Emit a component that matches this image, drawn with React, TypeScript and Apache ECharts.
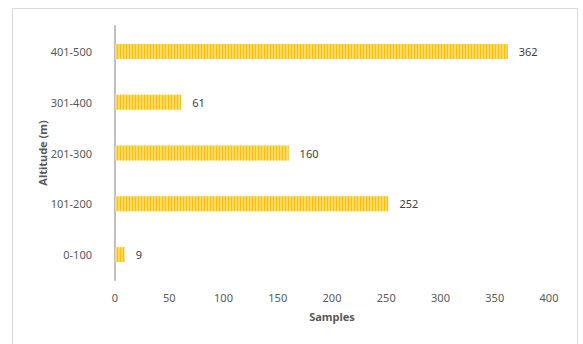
import React, { useEffect, useRef } from "react";
import * as echarts from "echarts";

const categories = ["0-100", "101-200", "201-300", "301-400", "401-500"];
const samples = [9, 252, 160, 61, 362];
const xTicks = { min: 0, max: 400, interval: 50 };

export default function App() {
  const ref = useRef<HTMLDivElement>(null);
  useEffect(() => {
    if (!ref.current) return;
    const chart = echarts.init(ref.current, undefined, { renderer: "svg" });
    const font = "'Noto Sans', 'Open Sans', sans-serif";
    chart.setOption({
      animation: false,
      backgroundColor: "#ffffff",
      graphic: [
        {
          type: "rect",
          shape: { x: 12.5, y: 8.5, width: 565, height: 345 },
          style: { fill: "none", stroke: "#D9D9D9", lineWidth: 1 },
          silent: true,
        },
      ],
      grid: { left: 115, right: 34, top: 26, bottom: 64, containLabel: false },
      xAxis: {
        type: "value",
        min: xTicks.min,
        max: xTicks.max,
        interval: xTicks.interval,
        name: "Samples",
        nameLocation: "middle",
        nameGap: 31,
        nameTextStyle: { color: "#595959", fontSize: 11, fontWeight: "bold", fontFamily: font },
        axisLine: { show: false },
        axisTick: { show: false },
        splitLine: { show: false },
        axisLabel: { color: "#595959", fontSize: 11, fontFamily: font, margin: 12 },
      },
      yAxis: {
        type: "category",
        data: categories,
        name: "Altitude (m)",
        nameLocation: "middle",
        nameGap: 67,
        nameRotate: 90,
        nameMoveOverlap: false,
        nameTextStyle: { color: "#595959", fontSize: 11, fontWeight: "bold", fontFamily: font },
        axisLine: { show: true, lineStyle: { color: "#BFBFBF", width: 2 } },
        axisTick: { show: false },
        axisLabel: { color: "#595959", fontSize: 11, fontFamily: font, margin: 23 },
      },
      series: [
        {
          type: "bar",
          data: samples,
          barWidth: 15,
          itemStyle: {
            color: "#FFD966",
            decal: {
              symbol: "rect",
              color: "#FFC000",
              dashArrayX: [1, 2],
              dashArrayY: [4, 0],
              symbolSize: 1,
              rotation: 0,
            },
          },
          label: {
            show: true,
            position: "right",
            distance: 11,
            color: "#404040",
            fontSize: 11,
            fontFamily: font,
          },
        },
      ],
    });
    return () => chart.dispose();
  }, []);
  return (
    <div
      ref={ref}
      style={{ position: "fixed", left: 0, top: 0, width: 583, height: 344 }}
    />
  );
}
